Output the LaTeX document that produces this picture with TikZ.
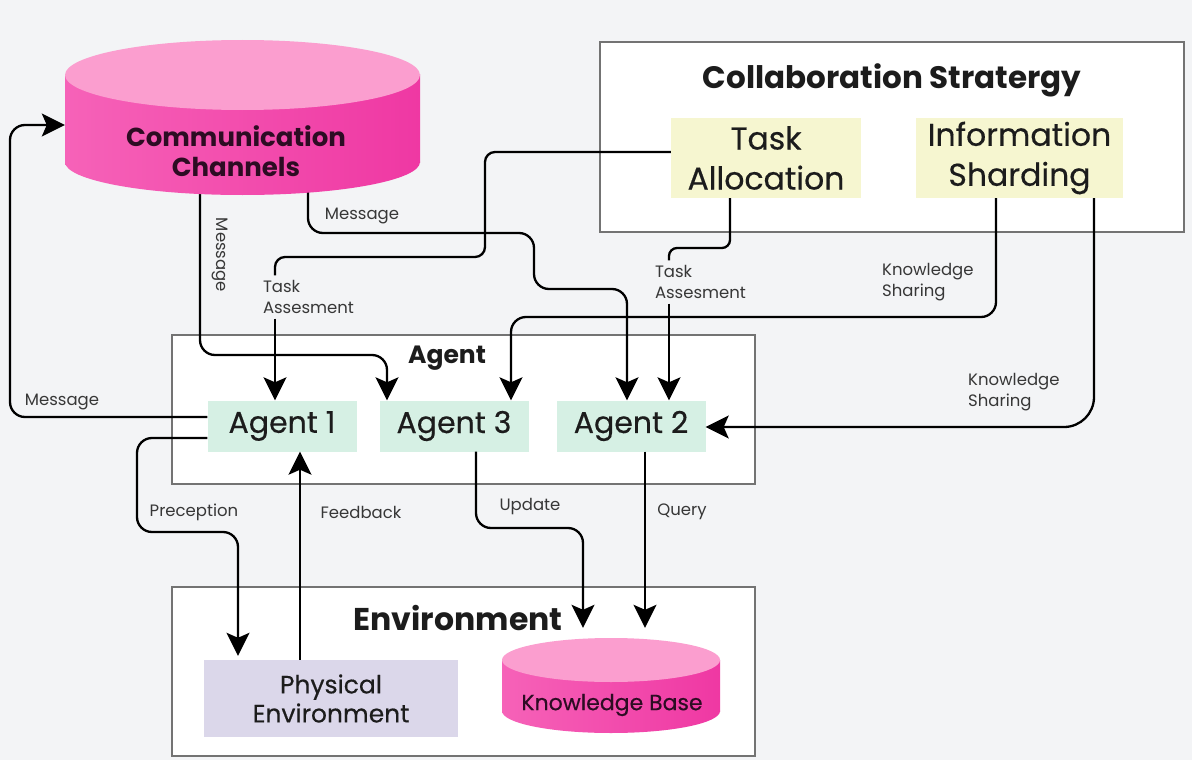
\documentclass[tikz,border=0pt]{standalone}
\usepackage{fontspec}
\setmainfont{Poppins}
\newfontfamily\pmed[FakeBold=0.4]{Poppins}
\usetikzlibrary{arrows.meta,calc}
\definecolor{bg}{RGB}{243,244,246}
\definecolor{yel}{RGB}{246,246,208}
\definecolor{mint}{RGB}{214,240,228}
\definecolor{lav}{RGB}{219,215,234}
\definecolor{pinktop}{RGB}{251,158,207}
\definecolor{pinkL}{RGB}{246,98,184}
\definecolor{pinkR}{RGB}{239,56,163}
\definecolor{frame}{RGB}{115,115,115}
\definecolor{txt}{RGB}{28,28,28}
\definecolor{lbl}{RGB}{55,55,55}
\definecolor{cyltxt}{RGB}{45,12,35}
\begin{document}
\begin{tikzpicture}[x=1pt,y=-1pt,
  container/.style={draw=frame, line width=1.5pt, fill=white, inner sep=0pt},
  conn/.style={line width=2.3pt, draw=black},
  arr/.style={conn, -{Stealth[length=23pt,width=23pt,inset=5pt]}},
  rc/.style={rounded corners=#1},
  lab/.style={font=\fontsize{16.5}{21}\selectfont, text=lbl, align=left, inner sep=0pt},
  tlab/.style={lab, outer sep=5pt},
  abox/.style={fill=mint, minimum width=149pt, minimum height=51pt, inner sep=0pt, text=txt, font=\pmed\fontsize{30}{34}\selectfont},
  sbox/.style={fill=yel, inner sep=0pt, text=txt, align=center, font=\pmed\fontsize{31.5}{40}\selectfont, minimum height=80pt}
]
\useasboundingbox (0,0) rectangle (1192,760);
\fill[bg] (0,0) rectangle (1192,760);

% containers
\node[container, minimum width=584pt, minimum height=190pt] (collab) at (892,137) {};
\node[container, minimum width=583pt, minimum height=149pt] (agentbox) at (463.5,409.5) {};
\node[container, minimum width=583pt, minimum height=169pt] (envbox) at (463.5,671.5) {};

% invisible nodes for cylinders
\node[minimum width=355pt, minimum height=155pt, inner sep=0pt] (cc) at (242.5,117.5) {};
\node[minimum width=218pt, minimum height=95pt, inner sep=0pt] (kb) at (611,685.5) {};

% boxes
\node[sbox, minimum width=190pt] (ta) at (766,158) {Task\\Allocation};
\node[sbox, minimum width=207pt] (is) at (1019.5,158) {Information\\Sharding};
\node[abox] (a1) at (282,426) {Agent 1};
\node[abox] (a3) at (454,426) {Agent 3};
\node[abox] (a2) at (631,426) {Agent 2};
\node[fill=lav, minimum width=254pt, minimum height=77pt, inner sep=0pt, align=center, text=txt, font=\pmed\fontsize{25}{29}\selectfont] (pe) at (331,698.5) {Physical\\Environment};

% labels
\node[lab, rotate=-90] (m1) at (220,255) {Message};
\node[lab] (m2) at (362,216) {Message};
\node[lab] (m3) at (62,402) {Message};
\node[tlab, anchor=west] (tas1) at (258,297) {Task\\Assesment};
\node[tlab, anchor=west] (tas2) at (650,282) {Task\\Assesment};
\node[lab, anchor=west] (ks1) at (882,282) {Knowledge\\Sharing};
\node[lab, anchor=west] (ks2) at (968,392) {Knowledge\\Sharing};
\node[lab] (lp) at (194,512) {Preception};
\node[lab] (lf) at (361,512) {Feedback};
\node[lab] (lu) at (530,507) {Update};
\node[lab] (lq) at (682,512) {Query};

% connectors
\draw[conn, rc=10pt] ([yshift=6pt]ta.west) -- (485,152) -- (485,257) -- (275,257) -- (275,0 |- tas1.north);
\draw[arr] (275,0 |- tas1.south) -- (275,0 |- a1.north);
\draw[arr] (200,185) [rc=15pt] -- (200,355) -- (387,355) [sharp corners] -- (387,0 |- a3.north);
\draw[arr] (308,185) [rc=15pt] -- (308,233) -- (534,233) -- (534,289) -- (627,289) [sharp corners] -- (627,0 |- a2.north);
\draw[arr] (996,0 |- is.south) [rc=15pt] -- (996,317) -- (511,317) [sharp corners] -- (511,0 |- a3.north);
\draw[conn, rc=8pt] (730,0 |- ta.south) -- (730,248) -- (669,248) -- (669,0 |- tas2.north);
\draw[arr] (669,0 |- tas2.south) -- (669,0 |- a2.north);
\draw[arr] (1094,0 |- is.south) [rc=30pt] -- (1094,427) [sharp corners] -- (a2.east |- 0,427);
\draw[arr] ([yshift=9pt]a1.west) [rc=15pt] -- (10,417) -- (10,125) [sharp corners] -- (cc.west |- 0,125);
\draw[arr, shorten >=4pt] ([yshift=-12pt]a1.west) [rc=15pt] -- (137,438) -- (137,532) -- (238,532) [sharp corners] -- (238,0 |- pe.north);
\draw[arr] (300,0 |- pe.north) -- (300,0 |- a1.south);
\draw[arr, shorten >=10pt] (476,0 |- a3.south) [rc=15pt] -- (476,528) -- (583,528) [sharp corners] -- (583,0 |- kb.north);
\draw[arr, shorten >=10pt] (645,0 |- a2.south) -- (645,0 |- kb.north);

% communication channels cylinder
\shade[left color=pinkL, right color=pinkR] (65,75) rectangle (420,162);
\shade[left color=pinkL, right color=pinkR] (242.5,162) ellipse [x radius=177.5, y radius=33];
\fill[pinktop] (242.5,75) ellipse [x radius=177.5, y radius=35];
\node[font=\bfseries\fontsize{26}{30}\selectfont, text=cyltxt, align=center] (cctext) at (236,151) {Communication\\Channels};

% knowledge base cylinder
\shade[left color=pinkL, right color=pinkR] (502,660) rectangle (720,711);
\shade[left color=pinkL, right color=pinkR] (611,711) ellipse [x radius=109, y radius=22];
\fill[pinktop] (611,660) ellipse [x radius=109, y radius=22];
\node[font=\pmed\fontsize{22}{24}\selectfont, text=cyltxt] (kbtext) at (612,705) {Knowledge Base};

% titles
\node[font=\bfseries\fontsize{31}{34}\selectfont, text=txt] (ctitle) at (892,80) {Collaboration Stratergy};
\node[font=\bfseries\fontsize{25}{28}\selectfont, text=txt] (atitle) at (447,358) {Agent};
\node[font=\bfseries\fontsize{31.5}{34}\selectfont, text=txt] (etitle) at (458,618) {Environment};
\end{tikzpicture}
\end{document}
